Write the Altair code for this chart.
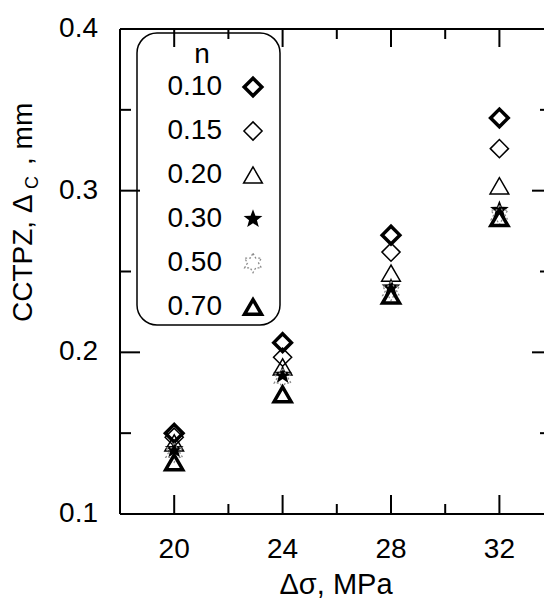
import math
import altair as alt
import pandas as pd

FONT = "Liberation Sans"

# ---------------- data ----------------
stress_mpa = [20, 24, 28, 32]
n_values = ["0.10", "0.15", "0.20", "0.30", "0.50", "0.70"]
cctpz_n010 = [0.150, 0.206, 0.2725, 0.345]
cctpz_n015 = [0.1475, 0.197, 0.262, 0.326]
cctpz_n020 = [0.144, 0.191, 0.249, 0.303]
cctpz_n030 = [0.140, 0.186, 0.240, 0.288]
cctpz_n050 = [0.138, 0.184, 0.238, 0.285]
cctpz_n070 = [0.132, 0.174, 0.235, 0.283]
series_values = [cctpz_n010, cctpz_n015, cctpz_n020, cctpz_n030, cctpz_n050, cctpz_n070]

x_label_ticks = [20, 24, 28, 32]
x_minor_ticks = [22, 26, 30]
y_label_ticks = [0.1, 0.2, 0.3, 0.4]
y_major_ticks = [0.2, 0.3]
y_minor_ticks = [0.15, 0.25, 0.35]
x_title = "Δσ, MPa"

rows = []
for n, vals in zip(n_values, series_values):
    for x, y in zip(stress_mpa, vals):
        rows.append({"n": n, "stress": x, "cctpz": y})
df = pd.DataFrame(rows)


def star_path(points, inner):
    pts = []
    for k in range(2 * points):
        ang = math.radians(-90 + 180.0 / points * k)
        r = 1.0 if k % 2 == 0 else inner
        pts.append(f"{r*math.cos(ang):.3f},{r*math.sin(ang):.3f}")
    return "M" + "L".join(pts) + "Z"


star5 = star_path(5, 0.42)
star6 = star_path(6, 0.577)

styles = [
    dict(shape="diamond", filled=False, strokeWidth=3.5, color="black", size=310),
    dict(shape="diamond", filled=False, strokeWidth=1.5, color="black", size=330),
    dict(shape="triangle-up", filled=False, strokeWidth=1.5, color="black", size=350),
    dict(shape=star5, filled=True, color="black", size=390),
    dict(shape=star6, filled=False, strokeWidth=1.3, color="#8a8a8a", size=370, strokeDash=[2, 2]),
    dict(shape="triangle-up", filled=False, strokeWidth=3.5, color="black", size=290),
]

W, H = 424, 485
xs = alt.Scale(domain=[18, 18 + W / 27.1], nice=False, zero=False)
ys = alt.Scale(domain=[0.1, 0.4], nice=False, zero=False)

one = pd.DataFrame({"a": [0]})
layers = []


def rule(**enc):
    return alt.Chart(one).mark_rule(color="black", strokeWidth=2).encode(**enc)


# frame lines: left, bottom, top
layers += [
    rule(x=alt.value(0), y=alt.value(0), y2=alt.value(H)),
    rule(x=alt.value(0), x2=alt.value(W), y=alt.value(H)),
    rule(x=alt.value(0), x2=alt.value(W), y=alt.value(0)),
]


# inward ticks
def xticks(vals, length, top):
    d = pd.DataFrame({"t": vals})
    y0, y1 = (0, length) if top else (H, H - length)
    return alt.Chart(d).mark_rule(color="black", strokeWidth=2).encode(
        x=alt.X("t:Q", scale=xs, axis=None), y=alt.value(y0), y2=alt.value(y1))


def yticks(vals, x0, x1):
    d = pd.DataFrame({"t": vals})
    return alt.Chart(d).mark_rule(color="black", strokeWidth=2).encode(
        y=alt.Y("t:Q", scale=ys, axis=None), x=alt.value(x0), x2=alt.value(x1))


layers += [
    xticks(x_label_ticks, 19, False), xticks(x_minor_ticks, 10, False),
    xticks(x_label_ticks, 18, True), xticks(x_minor_ticks, 10, True),
    yticks(y_major_ticks, 0, 20), yticks(y_minor_ticks, 0, 11),
    yticks(y_major_ticks, W - 12, W), yticks(y_minor_ticks, W - 4, W),
]

# tick labels
layers.append(alt.Chart(pd.DataFrame({"t": x_label_ticks})).mark_text(
    font=FONT, fontSize=28, align="center", baseline="middle", color="black").encode(
    x=alt.X("t:Q", scale=xs, axis=None), y=alt.value(H + 36), text=alt.Text("t:Q", format="d")))
layers.append(alt.Chart(pd.DataFrame({"t": y_label_ticks})).mark_text(
    font=FONT, fontSize=28, align="right", baseline="middle", color="black").encode(
    y=alt.Y("t:Q", scale=ys, axis=None), x=alt.value(-22), text=alt.Text("t:Q", format=".1f")))

# x title
layers.append(alt.Chart(pd.DataFrame({"label": [x_title]})).mark_text(
    font=FONT, fontSize=29, align="center", baseline="alphabetic", color="black").encode(
    text="label:N", x=alt.value(216), y=alt.value(H + 80)))

# data series
for n, st in zip(n_values, styles):
    d = df[df["n"] == n]
    layers.append(alt.Chart(d).mark_point(opacity=1, **st).encode(
        x=alt.X("stress:Q", scale=xs, axis=None),
        y=alt.Y("cctpz:Q", scale=ys, axis=None)))

# legend box
layers.append(alt.Chart(one).mark_rect(
    cornerRadius=20, fillOpacity=0, stroke="black", strokeWidth=1.5).encode(
    x=alt.value(17), x2=alt.value(160), y=alt.value(4), y2=alt.value(296)))
layers.append(alt.Chart(pd.DataFrame({"label": ["n"]})).mark_text(
    font=FONT, fontSize=28, align="center", baseline="middle", color="black").encode(
    text="label:N", x=alt.value(82), y=alt.value(26)))
for k, (n, st) in enumerate(zip(n_values, styles)):
    ypix = 58 + 44 * k
    layers.append(alt.Chart(pd.DataFrame({"label": [n]})).mark_text(
        font=FONT, fontSize=28, align="right", baseline="middle", color="black").encode(
        text="label:N", x=alt.value(102), y=alt.value(ypix)))
    layers.append(alt.Chart(pd.DataFrame({"label": [n]})).mark_point(opacity=1, **st).encode(
        x=alt.value(133), y=alt.value(ypix)))


# y-axis title with subscript
def ytext(t, size, xpix, ypix):
    return alt.Chart(pd.DataFrame({"label": [t]})).mark_text(
        font=FONT, fontSize=size, align="left", baseline="alphabetic", angle=270,
        color="black").encode(text="label:N", x=alt.value(xpix), y=alt.value(ypix))


layers += [
    ytext("CCTPZ, Δ", 28, -88, 293),
    ytext("C", 18, -82, 160),
    ytext(", mm", 28, -88, 136),
]

chart = alt.layer(*layers).properties(
    width=W, height=H,
    padding={"left": 112, "top": 21, "right": 0, "bottom": 88},
    autosize=alt.AutoSizeParams(type="none"),
    background="white",
).configure_view(stroke=None)

chart.save("out.html", embed_options={"renderer": "svg", "actions": False})
